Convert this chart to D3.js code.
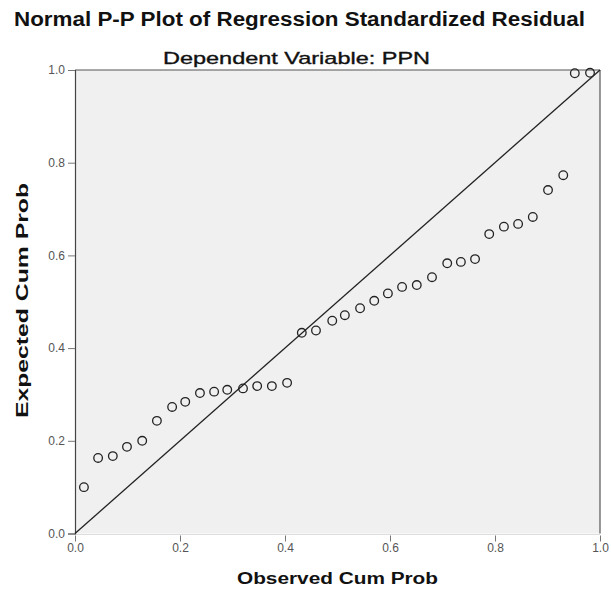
<!DOCTYPE html>
<html>
<head>
<meta charset="utf-8">
<script src="https://cdn.jsdelivr.net/npm/d3@7/dist/d3.min.js"></script>
<style>
  html, body { margin: 0; padding: 0; background: #ffffff; }
  svg { display: block; }
</style>
</head>
<body>
<svg id="chart" width="611" height="590"></svg>
<script>
const titleText = "Normal P-P Plot of Regression Standardized Residual";
const subtitleText = "Dependent Variable: PPN";
const xLabel = "Observed Cum Prob";
const yLabel = "Expected Cum Prob";
const tickValues = [0, 0.2, 0.4, 0.6, 0.8, 1.0];
const tickLabels = ["0.0", "0.2", "0.4", "0.6", "0.8", "1.0"];

const observed = [0.017, 0.044, 0.072, 0.099, 0.128, 0.156, 0.185, 0.210, 0.238, 0.265,
  0.290, 0.320, 0.347, 0.375, 0.404, 0.432, 0.459, 0.490, 0.514, 0.543,
  0.570, 0.596, 0.623, 0.651, 0.680, 0.709, 0.735, 0.762, 0.789, 0.817,
  0.844, 0.872, 0.901, 0.930, 0.952, 0.981];
const expected = [0.100, 0.163, 0.167, 0.187, 0.200, 0.243, 0.273, 0.284, 0.303, 0.306,
  0.310, 0.313, 0.318, 0.318, 0.325, 0.433, 0.438, 0.459, 0.471, 0.486,
  0.502, 0.518, 0.532, 0.536, 0.553, 0.583, 0.586, 0.592, 0.646, 0.662,
  0.668, 0.683, 0.741, 0.773, 0.993, 0.994];
const refLine = [[0, 0], [1, 1]];

const svg = d3.select("#chart");
const L = 75, R = 600, T = 70, B = 533.5;
const x = d3.scaleLinear().domain([0, 1]).range([L, R]);
const y = d3.scaleLinear().domain([0, 1]).range([B, T]);
const FONT = "Liberation Sans, Arial, sans-serif";

// plot background
svg.append("rect")
  .attr("x", x(0)).attr("y", y(1))
  .attr("width", x(1) - x(0)).attr("height", y(0) - y(1))
  .attr("fill", "#f0f0f0");

// frame: top and right
svg.append("line").attr("x1", x(0)).attr("x2", x(1)).attr("y1", y(1)).attr("y2", y(1))
  .attr("stroke", "#555").attr("stroke-width", 1.2);
svg.append("line").attr("x1", x(1)).attr("x2", x(1)).attr("y1", y(1)).attr("y2", y(0))
  .attr("stroke", "#555").attr("stroke-width", 1.2);
svg.append("line").attr("x1", x(0)).attr("x2", x(1)).attr("y1", y(0) + 1).attr("y2", y(0) + 1)
  .attr("stroke", "#dddddd").attr("stroke-width", 1);

// axes
const yAxis = d3.axisLeft(y).tickValues(tickValues)
  .tickFormat((d, i) => tickLabels[i]).tickSize(7).tickPadding(3);
const xAxis = d3.axisBottom(x).tickValues(tickValues)
  .tickFormat((d, i) => tickLabels[i]).tickSize(6).tickPadding(2);

const gy = svg.append("g").attr("transform", `translate(${x(0)},0)`).call(yAxis);
gy.select(".domain").attr("stroke", "#444").attr("stroke-width", 1.2);
gy.selectAll(".tick line").attr("stroke", "#777");
gy.selectAll(".tick text").attr("font-family", FONT)
  .attr("font-size", 12).attr("fill", "#555");

const gx = svg.append("g").attr("transform", `translate(0,${y(0) + 2})`).call(xAxis);
gx.select(".domain").remove();
gx.selectAll(".tick line").attr("stroke", "#777");
gx.selectAll(".tick text").attr("font-family", FONT)
  .attr("font-size", 12).attr("fill", "#555");

// reference diagonal
svg.append("path")
  .datum(refLine)
  .attr("d", d3.line().x(d => x(d[0])).y(d => y(d[1])))
  .attr("stroke", "#222").attr("stroke-width", 1.3).attr("fill", "none");

// points
svg.append("g").selectAll("circle")
  .data(observed.map((o, i) => [o, expected[i]]))
  .join("circle")
  .attr("cx", d => x(d[0])).attr("cy", d => y(d[1]))
  .attr("r", 4.3)
  .attr("fill", "none").attr("stroke", "#222").attr("stroke-width", 1.3);

// titles
svg.append("text").attr("x", 14).attr("y", 26)
  .attr("font-family", FONT).attr("font-weight", "bold")
  .attr("font-size", 20).attr("fill", "#111")
  .attr("textLength", 571).attr("lengthAdjust", "spacingAndGlyphs")
  .text(titleText);
svg.append("text").attr("x", 163).attr("y", 64)
  .attr("font-family", FONT)
  .attr("font-size", 17).attr("fill", "#111").attr("stroke", "#111").attr("stroke-width", 0.35)
  .attr("textLength", 267).attr("lengthAdjust", "spacingAndGlyphs")
  .text(subtitleText);

svg.append("text").attr("x", 237).attr("y", 584)
  .attr("font-family", FONT).attr("font-weight", "bold")
  .attr("font-size", 16).attr("fill", "#111")
  .attr("textLength", 201).attr("lengthAdjust", "spacingAndGlyphs")
  .text(xLabel);
svg.append("text").attr("transform", "translate(28,418) rotate(-90)")
  .attr("font-family", FONT).attr("font-weight", "bold")
  .attr("font-size", 16).attr("fill", "#111")
  .attr("textLength", 235).attr("lengthAdjust", "spacingAndGlyphs")
  .text(yLabel);
</script>
</body>
</html>
